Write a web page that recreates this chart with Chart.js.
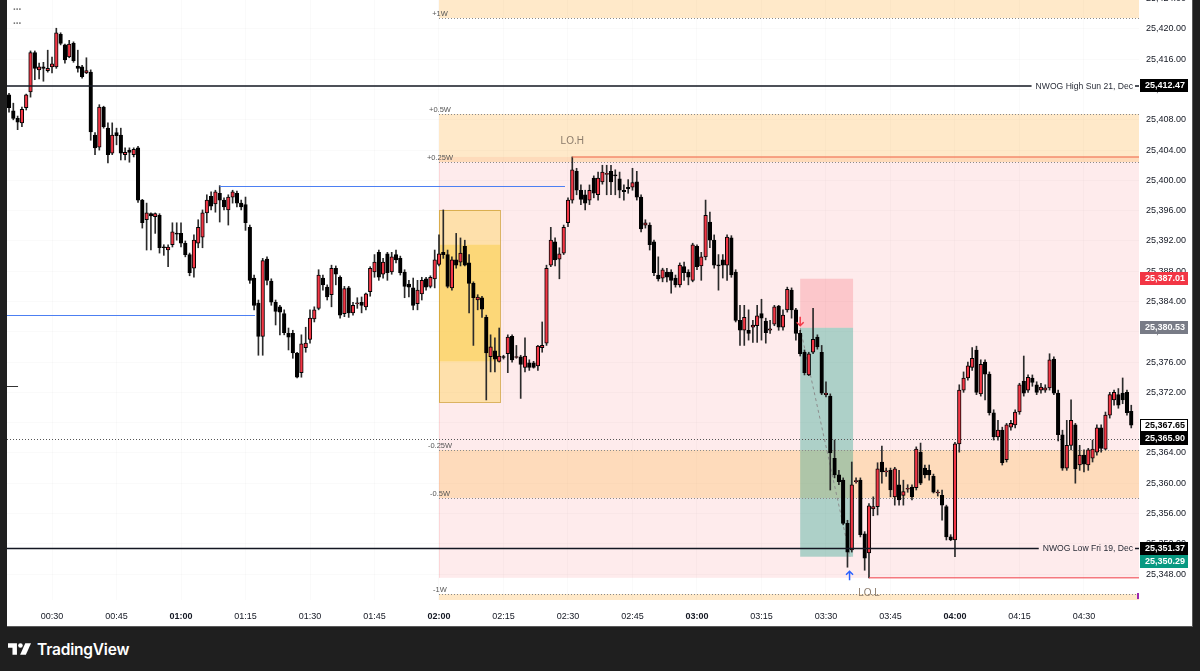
<!DOCTYPE html>
<html>
<head>
<meta charset="utf-8">
<script src="https://cdn.jsdelivr.net/npm/chart.js@4.4.1/dist/chart.umd.min.js"></script>
<style>
  html, body { margin: 0; padding: 0; width: 1200px; height: 671px; overflow: hidden; background: #1f1f1f; }
  #wrap { position: absolute; left: 7px; top: 0; width: 1186px; height: 627px; background: #fff; box-shadow: inset -1px -1px 0 #5a5a5a; }
  #logo { position: absolute; left: 8px; top: 640px; height: 18px; display: flex; align-items: center; color: #fff;
          font: 600 15.5px "Inter", "Open Sans", sans-serif; letter-spacing: -0.2px; }
  #logo svg { margin-right: 6px; }
</style>
</head>
<body>
<div id="wrap"><canvas id="chart"></canvas></div>
<div id="logo">
  <svg width="23" height="12" viewBox="0 0 36 18"><path d="M0 0h14v18H7V7H0z" fill="#fff"/><circle cx="19.5" cy="3.6" r="3.6" fill="#fff"/><path d="M27 0h9l-8 18h-9z" fill="#fff"/></svg>
  <span>TradingView</span>
</div>
<script>
(function () {
  'use strict';

  // ─── Data: 1-minute candles from 00:20 ─────────────────
  var firstMinute = 20;
  var opens = [
    25411.3, 25409.2, 25408.2, 25407.6, 25409.6, 25411.7, 25416.9, 25414.6, 25415.0, 25414.5,
    25415.0, 25415.0, 25419.3, 25417.9, 25416.3, 25418.1, 25415.1, 25415.0, 25414.2, 25414.3,
    25406.0, 25404.4, 25409.7, 25406.9, 25403.6, 25406.3, 25406.0, 25403.4, 25404.0, 25403.4,
    25404.3, 25397.4, 25394.8, 25395.6, 25395.2, 25395.4, 25391.2, 25390.8, 25391.5, 25393.0,
    25393.0, 25391.7, 25390.2, 25388.4, 25391.7, 25392.5, 25395.7, 25397.9, 25396.9, 25398.3,
    25397.4, 25396.1, 25397.8, 25398.3, 25397.0, 25396.8, 25393.8, 25387.1, 25383.8, 25379.4,
    25389.6, 25386.7, 25383.9, 25383.3, 25382.4, 25379.8, 25379.8, 25377.2, 25374.6, 25377.9,
    25379.0, 25381.7, 25383.1, 25387.1, 25385.9, 25384.9, 25388.4, 25387.2, 25382.4, 25385.8,
    25382.5, 25383.7, 25383.9, 25383.3, 25385.3, 25387.9, 25390.5, 25387.6, 25390.3, 25387.9,
    25390.2, 25389.7, 25387.9, 25386.3, 25385.8, 25383.7, 25385.0, 25387.0, 25386.0, 25387.0,
    25388.9, 25390.5, 25390.2, 25385.8, 25389.5, 25389.2, 25391.3, 25389.1, 25386.4, 25384.2,
    25384.5, 25381.9, 25376.7, 25377.5, 25376.1, 25376.7, 25377.1, 25379.4, 25376.6, 25376.7,
    25375.3, 25375.9, 25375.9, 25375.5, 25377.9, 25378.5, 25388.8, 25391.9, 25389.6, 25390.4,
    25394.4, 25397.4, 25401.2, 25398.7, 25398.1, 25397.4, 25400.3, 25398.1, 25399.8, 25400.8,
    25401.2, 25400.7, 25400.2, 25398.7, 25399.1, 25399.1, 25399.8, 25397.8, 25394.1, 25394.1,
    25391.9, 25387.5, 25387.1, 25387.9, 25387.9, 25387.1, 25386.2, 25388.6, 25387.9, 25386.8,
    25391.3, 25388.7, 25389.9, 25394.5, 25392.1, 25388.8, 25389.5, 25388.8, 25392.4, 25387.9,
    25381.5, 25380.2, 25380.2, 25380.6, 25380.8, 25382.4, 25381.4, 25380.2, 25381.0, 25383.4,
    25380.6, 25382.9, 25385.5, 25382.9, 25379.8, 25377.3, 25374.3, 25377.3, 25379.3, 25377.3,
    25371.7, 25371.5, 25363.3, 25361.1, 25360.4, 25354.7, 25351.2, 25360.2, 25360.4, 25353.3,
    25350.8, 25356.6, 25356.9, 25362.8, 25361.5, 25361.7, 25358.2, 25359.8, 25358.4, 25359.2,
    25359.5, 25359.4, 25364.1, 25362.0, 25361.7, 25360.9, 25358.7, 25358.4, 25356.9, 25352.9,
    25352.5, 25365.2, 25372.3, 25373.9, 25375.3, 25377.6, 25371.8, 25376.0, 25374.4, 25369.3,
    25366.1, 25367.0, 25363.1, 25367.4, 25367.7, 25369.4, 25373.5, 25372.3, 25373.9, 25373.0,
    25372.3, 25372.3, 25372.6, 25376.4, 25371.9, 25366.4, 25362.0, 25365.0, 25367.7, 25362.4,
    25363.7, 25362.4, 25363.3, 25364.1, 25367.3, 25364.5, 25369.0, 25371.0, 25371.7, 25371.9,
    25372.0, 25369.5
  ];
  var highs = [
    25411.5, 25410.2, 25408.5, 25409.7, 25411.4, 25417.1, 25417.1, 25415.5, 25415.6, 25417.2,
    25416.3, 25420.1, 25419.5, 25418.0, 25418.5, 25418.3, 25417.2, 25415.2, 25416.2, 25414.6,
    25406.3, 25410.0, 25409.8, 25407.6, 25407.6, 25406.9, 25406.9, 25404.3, 25404.3, 25404.3,
    25404.5, 25397.5, 25397.0, 25395.7, 25395.7, 25395.6, 25391.5, 25391.5, 25394.4, 25394.4,
    25394.4, 25392.0, 25390.4, 25392.8, 25394.8, 25396.1, 25398.1, 25398.5, 25398.7, 25399.3,
    25397.7, 25398.1, 25398.7, 25398.6, 25397.4, 25397.8, 25394.1, 25387.5, 25384.2, 25389.7,
    25389.9, 25387.0, 25384.2, 25383.5, 25382.9, 25380.5, 25380.2, 25377.3, 25379.6, 25380.6,
    25382.9, 25383.3, 25388.2, 25387.5, 25386.2, 25388.8, 25388.7, 25387.4, 25386.0, 25386.0,
    25383.9, 25384.5, 25384.6, 25385.1, 25388.6, 25390.2, 25390.8, 25389.7, 25390.5, 25390.5,
    25390.8, 25390.0, 25388.2, 25386.8, 25387.1, 25386.8, 25387.2, 25387.2, 25387.4, 25390.8,
    25392.8, 25396.1, 25390.8, 25389.9, 25393.0, 25392.4, 25392.1, 25390.2, 25386.6, 25384.9,
    25384.7, 25382.2, 25379.6, 25379.2, 25380.5, 25376.9, 25379.6, 25379.6, 25378.2, 25376.9,
    25379.2, 25376.3, 25376.1, 25378.2, 25381.3, 25388.8, 25393.8, 25392.4, 25391.1, 25394.1,
    25397.7, 25403.1, 25401.6, 25399.4, 25398.7, 25399.4, 25400.6, 25401.1, 25402.0, 25402.0,
    25402.0, 25401.4, 25401.1, 25399.4, 25400.1, 25401.6, 25401.2, 25398.1, 25394.8, 25394.4,
    25392.1, 25389.9, 25388.4, 25388.4, 25388.2, 25387.5, 25389.1, 25389.2, 25388.2, 25391.7,
    25391.5, 25390.5, 25397.4, 25395.8, 25392.8, 25390.2, 25390.2, 25392.8, 25392.7, 25388.2,
    25383.5, 25383.5, 25382.9, 25381.5, 25383.5, 25384.3, 25381.8, 25381.5, 25383.5, 25383.5,
    25382.9, 25385.9, 25385.8, 25383.1, 25380.2, 25377.6, 25377.3, 25383.1, 25379.6, 25378.2,
    25373.4, 25371.8, 25365.7, 25361.7, 25360.7, 25355.1, 25362.8, 25360.7, 25360.7, 25353.6,
    25357.3, 25358.2, 25362.7, 25364.9, 25362.0, 25362.0, 25362.1, 25361.7, 25360.4, 25359.8,
    25359.8, 25364.8, 25365.3, 25362.4, 25362.4, 25361.2, 25359.1, 25359.1, 25357.1, 25353.2,
    25365.4, 25373.0, 25374.7, 25376.0, 25377.9, 25378.1, 25376.3, 25376.3, 25374.7, 25369.7,
    25368.3, 25367.4, 25367.9, 25368.3, 25369.7, 25373.2, 25376.8, 25374.3, 25374.3, 25373.4,
    25373.2, 25373.0, 25377.1, 25376.7, 25372.3, 25367.0, 25368.3, 25371.0, 25367.9, 25365.0,
    25364.4, 25364.6, 25365.7, 25367.7, 25367.7, 25369.4, 25372.0, 25372.3, 25372.5, 25373.9,
    25372.3, 25370.3
  ];
  var lows = [
    25409.0, 25408.0, 25406.7, 25407.1, 25409.3, 25411.0, 25413.3, 25413.4, 25413.1, 25414.3,
    25414.2, 25414.8, 25417.9, 25415.5, 25416.2, 25415.6, 25414.3, 25413.5, 25414.1, 25405.3,
    25403.4, 25404.0, 25406.9, 25402.3, 25403.4, 25404.7, 25402.7, 25402.7, 25402.4, 25403.1,
    25397.1, 25393.7, 25390.8, 25390.8, 25393.0, 25390.4, 25390.1, 25388.6, 25391.2, 25392.1,
    25391.2, 25389.9, 25387.4, 25387.2, 25391.1, 25391.1, 25394.4, 25396.1, 25395.8, 25394.5,
    25396.1, 25394.1, 25397.0, 25396.5, 25396.1, 25393.4, 25386.4, 25382.9, 25376.9, 25376.9,
    25386.2, 25383.5, 25380.9, 25379.6, 25379.6, 25377.6, 25376.5, 25373.9, 25374.0, 25377.3,
    25378.5, 25381.3, 25382.9, 25385.5, 25384.2, 25383.3, 25386.2, 25381.8, 25382.0, 25381.9,
    25382.2, 25383.1, 25382.5, 25382.9, 25384.7, 25387.2, 25386.8, 25387.1, 25386.8, 25387.6,
    25389.1, 25387.5, 25384.5, 25384.6, 25382.9, 25382.9, 25384.2, 25385.5, 25385.8, 25385.8,
    25388.7, 25389.7, 25385.8, 25385.5, 25388.4, 25388.7, 25388.7, 25382.5, 25378.2, 25382.9,
    25381.9, 25371.0, 25374.7, 25374.7, 25376.0, 25376.4, 25374.6, 25376.0, 25376.5, 25371.2,
    25374.7, 25374.9, 25375.2, 25374.9, 25377.3, 25378.2, 25388.6, 25388.7, 25387.0, 25390.2,
    25393.9, 25397.0, 25398.1, 25396.8, 25396.1, 25396.8, 25397.7, 25397.4, 25399.5, 25398.1,
    25398.1, 25398.1, 25397.7, 25397.4, 25398.3, 25398.7, 25397.4, 25393.2, 25393.7, 25390.8,
    25387.4, 25386.7, 25386.6, 25386.6, 25385.1, 25385.9, 25385.9, 25386.8, 25386.2, 25386.6,
    25388.2, 25386.8, 25389.5, 25391.1, 25388.4, 25385.5, 25387.1, 25386.8, 25387.2, 25381.3,
    25378.2, 25378.2, 25378.9, 25378.6, 25378.6, 25378.9, 25378.5, 25379.8, 25380.8, 25380.2,
    25380.2, 25382.6, 25381.8, 25378.9, 25376.8, 25374.3, 25374.2, 25377.1, 25377.7, 25371.7,
    25371.4, 25359.1, 25360.7, 25359.8, 25354.5, 25348.9, 25350.9, 25360.0, 25352.9, 25348.5,
    25347.5, 25355.7, 25355.8, 25360.0, 25360.9, 25358.2, 25357.1, 25357.1, 25357.1, 25358.8,
    25357.8, 25359.1, 25359.8, 25360.7, 25360.4, 25358.7, 25358.3, 25355.1, 25352.5, 25352.4,
    25350.3, 25364.1, 25372.0, 25373.6, 25374.9, 25371.7, 25371.5, 25371.0, 25369.0, 25365.7,
    25365.7, 25362.4, 25362.8, 25367.0, 25367.3, 25369.1, 25371.5, 25372.0, 25372.8, 25371.7,
    25371.9, 25372.0, 25372.3, 25371.7, 25365.6, 25361.7, 25361.7, 25364.4, 25360.0, 25361.7,
    25361.5, 25361.7, 25362.8, 25363.7, 25364.1, 25364.4, 25368.6, 25370.3, 25369.9, 25370.5,
    25369.0, 25367.3
  ];
  var closes = [
    25409.6, 25408.2, 25407.7, 25409.4, 25411.3, 25416.9, 25414.8, 25415.0, 25414.8, 25414.8,
    25415.4, 25419.5, 25418.1, 25415.9, 25418.0, 25415.8, 25414.8, 25413.7, 25414.5, 25406.4,
    25404.3, 25409.7, 25407.1, 25403.4, 25406.0, 25405.9, 25403.6, 25403.7, 25403.7, 25404.1,
    25397.4, 25394.4, 25395.7, 25395.3, 25395.6, 25391.1, 25391.1, 25391.2, 25393.2, 25392.9,
    25391.7, 25390.2, 25387.8, 25392.1, 25393.8, 25395.7, 25397.4, 25396.6, 25398.5, 25397.4,
    25396.5, 25397.8, 25398.5, 25397.0, 25396.5, 25394.4, 25386.8, 25383.5, 25379.4, 25389.4,
    25386.8, 25383.9, 25382.7, 25382.6, 25379.9, 25379.3, 25377.2, 25374.0, 25378.4, 25378.5,
    25381.8, 25382.9, 25387.5, 25386.2, 25384.6, 25388.4, 25387.6, 25382.2, 25385.7, 25382.5,
    25383.5, 25383.8, 25383.5, 25385.0, 25388.4, 25389.2, 25387.2, 25389.2, 25387.8, 25389.9,
    25389.5, 25387.8, 25386.0, 25385.9, 25383.5, 25385.5, 25386.8, 25385.9, 25387.2, 25389.5,
    25390.3, 25390.2, 25386.0, 25389.5, 25388.8, 25390.4, 25388.8, 25386.4, 25384.5, 25384.6,
    25383.0, 25377.2, 25378.0, 25376.4, 25376.8, 25376.6, 25379.3, 25376.3, 25376.7, 25375.7,
    25376.8, 25375.3, 25375.3, 25378.1, 25378.2, 25388.4, 25392.1, 25389.5, 25390.3, 25393.8,
    25397.4, 25401.4, 25398.7, 25397.5, 25397.0, 25398.7, 25398.3, 25400.3, 25401.1, 25400.9,
    25399.8, 25400.6, 25398.7, 25398.5, 25398.9, 25399.7, 25397.8, 25393.6, 25394.4, 25391.5,
    25387.8, 25387.0, 25388.2, 25387.2, 25386.8, 25386.2, 25388.8, 25387.8, 25387.2, 25391.5,
    25388.6, 25389.9, 25395.4, 25392.1, 25388.8, 25388.7, 25388.8, 25392.5, 25387.5, 25381.5,
    25380.2, 25381.9, 25379.8, 25380.9, 25382.1, 25381.8, 25379.9, 25380.4, 25383.3, 25380.6,
    25382.2, 25385.6, 25382.9, 25379.8, 25377.1, 25374.6, 25377.1, 25379.0, 25378.0, 25371.9,
    25371.9, 25364.0, 25361.1, 25360.2, 25354.7, 25350.9, 25359.8, 25360.3, 25353.2, 25350.1,
    25357.0, 25356.9, 25361.9, 25361.5, 25361.6, 25359.1, 25361.9, 25357.8, 25358.9, 25359.3,
    25358.2, 25364.5, 25360.0, 25361.1, 25361.1, 25358.8, 25358.8, 25357.1, 25352.9, 25352.5,
    25365.2, 25372.3, 25373.9, 25375.5, 25376.5, 25372.0, 25375.7, 25374.4, 25369.3, 25366.1,
    25367.0, 25362.7, 25367.7, 25367.9, 25369.4, 25373.0, 25371.9, 25374.0, 25373.3, 25372.0,
    25372.7, 25372.6, 25376.3, 25371.9, 25366.4, 25362.0, 25365.0, 25368.3, 25361.9, 25363.7,
    25362.5, 25364.4, 25364.5, 25367.3, 25364.6, 25369.0, 25371.7, 25372.0, 25370.3, 25371.0,
    25369.3, 25367.65
  ];

  // ─── Axes ──────────────────────────────────────────────
  var timeTicks = [30, 45, 60, 75, 90, 105, 120, 135, 150, 165, 180, 195, 210, 225, 240, 255, 270];
  var timeLabels = ['00:30', '00:45', '01:00', '01:15', '01:30', '01:45', '02:00', '02:15', '02:30',
    '02:45', '03:00', '03:15', '03:30', '03:45', '04:00', '04:15', '04:30'];
  var priceTicks = [25348, 25352, 25356, 25360, 25364, 25368, 25372, 25376, 25380, 25384,
    25388, 25392, 25396, 25400, 25404, 25408, 25412, 25416, 25420, 25424];
  var timeRange = [19.53, 282.8];
  var priceRange = [25344.57, 25423.83];

  // ─── Drawings ─────────────────────────────────────────
  var weekLevels = [25421.45, 25408.77, 25402.43, 25364.38, 25358.05, 25345.36];
  var weekLabels = ['+1W', '+0.5W', '+0.25W', '-0.25W', '-0.5W', '-1W'];
  var weekStart = 120;                       // 02:00
  var loLevels = [25403.1, 25347.5];         // LO.H, LO.L
  var loLabels = ['LO.H', 'LO.L'];
  var loTimes = [151, 220];
  var nwogPrices = [25412.47, 25351.37];
  var nwogLabels = ['NWOG High Sun 21, Dec', 'NWOG Low Fri 19, Dec'];
  var lastClosePrice = 25365.90;
  var boxTimes = [120, 134.2];
  var boxOuter = [25396.1, 25370.7];
  var boxInner = [25391.5, 25376.1];
  var posTimes = [204, 216.3];
  var posPrices = [25387.01, 25380.53, 25350.29]; // stop, entry, target
  var posExit = [215.6, 25350.29];
  var rayPrices = [25399.3, 25382.2, 25372.84];
  var rayStarts = [69, 19.53, 19.53];
  var rayEnds = [149.3, 77.2, 22.1];
  var tagPrices = [25412.47, 25387.01, 25380.53, 25367.65, 25365.90, 25351.37, 25350.29];

  var tagStyles = [
    { bg: '#000000', fg: '#ffffff' },
    { bg: '#f23645', fg: '#ffffff' },
    { bg: '#787b86', fg: '#ffffff' },
    { bg: '#ffffff', fg: '#000000', border: '#000000' },
    { bg: '#000000', fg: '#ffffff' },
    { bg: '#000000', fg: '#ffffff' },
    { bg: '#089981', fg: '#ffffff' }
  ];

  var FONT = '"Liberation Sans", Arial, sans-serif';
  var UP = '#f23645';
  var DOWN = '#000000';

  function fmtPrice(v) {
    var s = Number(v).toFixed(2).split('.');
    return s[0].replace(/\B(?=(\d{3})+(?!\d))/g, ',') + '.' + s[1];
  }

  var bodyData = [], wickData = [];
  for (var i = 0; i < opens.length; i++) {
    bodyData.push({ x: firstMinute + i, y: [opens[i], closes[i]] });
    wickData.push({ x: firstMinute + i, y: [lows[i], highs[i]] });
  }

  function hline(ctx, x0, x1, y) {
    ctx.beginPath();
    ctx.moveTo(x0, Math.round(y) + 0.5);
    ctx.lineTo(x1, Math.round(y) + 0.5);
    ctx.stroke();
  }

  // zones sit behind the candles
  function drawZones(chart) {
    var ctx = chart.ctx, a = chart.chartArea, xs = chart.scales.x, ys = chart.scales.y;
    var X = function (t) { return xs.getPixelForValue(t); };
    var Y = function (p) { return ys.getPixelForValue(p); };
    var x0 = X(weekStart), xR = a.right;

    ctx.save();
    ctx.beginPath();
    ctx.rect(a.left, a.top, a.right - a.left, a.bottom - a.top);
    ctx.clip();

    // LO range
    ctx.fillStyle = 'rgba(242, 54, 69, 0.1)';
    ctx.fillRect(x0, Y(loLevels[0]), xR - x0, Y(loLevels[1]) - Y(loLevels[0]));
    ctx.strokeStyle = 'rgba(242, 54, 69, 0.12)';
    ctx.lineWidth = 1;
    ctx.beginPath();
    ctx.moveTo(Math.round(x0) + 0.5, Y(loLevels[0]));
    ctx.lineTo(Math.round(x0) + 0.5, Y(loLevels[1]));
    ctx.stroke();

    // weekly bands
    ctx.fillStyle = 'rgba(255, 183, 77, 0.3)';
    ctx.fillRect(x0, a.top - 5, xR - x0, Y(weekLevels[0]) - a.top + 5);
    ctx.fillRect(x0, Y(weekLevels[1]), xR - x0, Y(weekLevels[2]) - Y(weekLevels[1]));
    ctx.fillRect(x0, Y(weekLevels[3]), xR - x0, Y(weekLevels[4]) - Y(weekLevels[3]));
    ctx.fillRect(x0, Y(weekLevels[5]), xR - x0, a.bottom - Y(weekLevels[5]) + 5);

    // order block box
    var bx0 = X(boxTimes[0]), bx1 = X(boxTimes[1]);
    ctx.fillStyle = 'rgba(255, 210, 80, 0.42)';
    ctx.fillRect(bx0, Y(boxOuter[0]), bx1 - bx0, Y(boxOuter[1]) - Y(boxOuter[0]));
    ctx.fillStyle = 'rgba(250, 205, 60, 0.45)';
    ctx.fillRect(bx0, Y(boxInner[0]), bx1 - bx0, Y(boxInner[1]) - Y(boxInner[0]));
    ctx.strokeStyle = 'rgba(200, 150, 30, 0.65)';
    ctx.strokeRect(Math.round(bx0) + 0.5, Math.round(Y(boxOuter[0])) + 0.5,
      Math.round(bx1 - bx0), Math.round(Y(boxOuter[1]) - Y(boxOuter[0])));

    // short position tool
    var px0 = X(posTimes[0]), px1 = X(posTimes[1]);
    ctx.fillStyle = 'rgba(242, 54, 69, 0.2)';
    ctx.fillRect(px0, Y(posPrices[0]), px1 - px0, Y(posPrices[1]) - Y(posPrices[0]));
    ctx.fillStyle = 'rgba(8, 153, 129, 0.33)';
    ctx.fillRect(px0, Y(posPrices[1]), px1 - px0, Y(posPrices[2]) - Y(posPrices[1]));
    ctx.strokeStyle = '#8c8c8c';
    ctx.setLineDash([3, 3]);
    ctx.beginPath();
    ctx.moveTo(px0, Y(posPrices[1]));
    ctx.lineTo(X(posExit[0]), Y(posExit[1]));
    ctx.stroke();

    // dotted weekly levels
    ctx.setLineDash([1, 2]);
    ctx.strokeStyle = '#8a8a8a';
    for (var k = 0; k < weekLevels.length; k++) hline(ctx, x0, xR, Y(weekLevels[k]));

    // last close dotted line
    ctx.strokeStyle = '#555';
    hline(ctx, a.left, xR, Y(lastClosePrice));
    ctx.setLineDash([]);
    ctx.restore();
  }

  function drawArrow(ctx, x, yTip, dir, color) {
    // dir = 1 points down, -1 points up
    ctx.save();
    ctx.strokeStyle = color;
    ctx.lineWidth = 1.5;
    ctx.beginPath();
    ctx.moveTo(x, yTip - dir * 9);
    ctx.lineTo(x, yTip);
    ctx.moveTo(x - 3.5, yTip - dir * 3.5);
    ctx.lineTo(x, yTip);
    ctx.lineTo(x + 3.5, yTip - dir * 3.5);
    ctx.stroke();
    ctx.restore();
  }

  // lines and labels on top
  function drawDrawings(chart) {
    var ctx = chart.ctx, a = chart.chartArea, xs = chart.scales.x, ys = chart.scales.y;
    var X = function (t) { return xs.getPixelForValue(t); };
    var Y = function (p) { return ys.getPixelForValue(p); };
    var x0 = X(weekStart), xR = a.right;

    ctx.save();
    ctx.beginPath();
    ctx.rect(a.left, a.top, a.right - a.left, a.bottom - a.top);
    ctx.clip();

    // horizontal rays
    var rayColors = ['#4c7ff2', '#4c7ff2', '#333333'];
    ctx.lineWidth = 1;
    for (var r = 0; r < rayPrices.length; r++) {
      ctx.strokeStyle = rayColors[r];
      hline(ctx, Math.max(a.left, X(rayStarts[r])), X(rayEnds[r]), Y(rayPrices[r]));
    }

    // LO.H / LO.L lines
    ctx.lineWidth = 1.5;
    ctx.strokeStyle = 'rgba(240, 110, 80, 0.75)';
    ctx.beginPath();
    ctx.moveTo(X(loTimes[0]), Y(loLevels[0]));
    ctx.lineTo(xR, Y(loLevels[0]));
    ctx.stroke();
    ctx.strokeStyle = 'rgba(242, 80, 90, 0.75)';
    ctx.beginPath();
    ctx.moveTo(X(loTimes[1]), Y(loLevels[1]));
    ctx.lineTo(xR, Y(loLevels[1]));
    ctx.stroke();

    ctx.font = '10px ' + FONT;
    ctx.fillStyle = '#8b7b6b';
    ctx.textAlign = 'center';
    ctx.textBaseline = 'middle';
    ctx.fillText(loLabels[0], X(loTimes[0]), Y(loLevels[0]) - 16);
    ctx.fillText(loLabels[1], X(loTimes[1]), Y(loLevels[1]) + 15);

    // weekly labels
    ctx.font = '7.5px ' + FONT;
    ctx.fillStyle = '#555';
    ctx.textBaseline = 'alphabetic';
    for (var k = 0; k < weekLevels.length; k++) {
      ctx.fillText(weekLabels[k], x0 + 1, Y(weekLevels[k]) - 2);
    }

    // NWOG lines with right-hand labels
    ctx.font = '8.6px ' + FONT;
    ctx.textAlign = 'right';
    ctx.textBaseline = 'middle';
    for (var n = 0; n < nwogPrices.length; n++) {
      var y = Y(nwogPrices[n]);
      var textRight = xR - 6;
      var w = ctx.measureText(nwogLabels[n]).width;
      ctx.strokeStyle = '#131722';
      ctx.lineWidth = 1.6;
      ctx.beginPath();
      ctx.moveTo(a.left, y);
      ctx.lineTo(textRight - w - 4, y);
      ctx.moveTo(textRight + 2, y);
      ctx.lineTo(xR, y);
      ctx.stroke();
      ctx.fillStyle = '#2a2e39';
      ctx.fillText(nwogLabels[n], textRight, y + 0.5);
    }

    // entry / exit arrows
    drawArrow(ctx, X(posTimes[0]), Y(posPrices[1]) - 2, 1, '#f23645');
    drawArrow(ctx, X(posExit[0]) - 0.5, Y(lows[195]) + 4, -1, '#2962ff');

    // collapsed legend dots
    ctx.font = 'bold 10px ' + FONT;
    ctx.fillStyle = '#777';
    ctx.textAlign = 'left';
    ctx.fillText('...', a.left + 6, 7);
    ctx.fillText('...', a.left + 6, 21);

    // small purple marker at the right edge
    ctx.fillStyle = '#9c27b0';
    ctx.fillRect(xR - 2, Y(weekLevels[5]) - 1, 2, 6);
    ctx.restore();
  }

  function drawTags(chart) {
    var ctx = chart.ctx, ys = chart.scales.y, a = chart.chartArea;
    var h = 13, left = a.right + 1, width = 48;
    var prevBottom = -Infinity;
    ctx.save();
    ctx.font = 'bold 9px ' + FONT;
    ctx.textAlign = 'center';
    ctx.textBaseline = 'middle';
    for (var t = 0; t < tagPrices.length; t++) {
      var cy = ys.getPixelForValue(tagPrices[t]);
      var top = Math.round(cy - h / 2);
      if (top < prevBottom) top = prevBottom;
      prevBottom = top + h;
      var st = tagStyles[t];
      ctx.fillStyle = st.bg;
      ctx.fillRect(left, top, width, h);
      if (st.border) {
        ctx.strokeStyle = st.border;
        ctx.lineWidth = 1;
        ctx.strokeRect(left + 0.5, top + 0.5, width - 1, h - 1);
      }
      ctx.fillStyle = st.fg;
      ctx.fillText(fmtPrice(tagPrices[t]), left + width / 2 + 1, top + h / 2 + 0.5);
    }
    ctx.restore();
  }

  var overlayPlugin = {
    id: 'overlays',
    beforeDatasetsDraw: function (chart) { drawZones(chart); },
    afterDatasetsDraw: function (chart) { drawDrawings(chart); },
    afterDraw: function (chart) { drawTags(chart); }
  };

  var gridColor = 'rgba(42, 46, 57, 0.025)';

  new Chart(document.getElementById('chart'), {
    type: 'bar',
    data: {
      datasets: [{
        label: 'body',
        data: bodyData,
        order: 0,
        grouped: false,
        barThickness: 3.6,
        minBarLength: 1,
        borderSkipped: false,
        borderWidth: 1,
        borderColor: '#000000',
        backgroundColor: function (c) {
          var k = c.dataIndex;
          return closes[k] >= opens[k] ? UP : DOWN;
        }
      }, {
        label: 'wick',
        data: wickData,
        order: 1,
        grouped: false,
        barThickness: 1,
        minBarLength: 1,
        borderWidth: 0,
        backgroundColor: '#2b2b2b'
      }]
    },
    options: {
      responsive: true,
      maintainAspectRatio: false,
      animation: false,
      events: [],
      layout: { padding: 0, autoPadding: false },
      plugins: { legend: { display: false }, tooltip: { enabled: false } },
      scales: {
        x: {
          type: 'linear',
          min: timeRange[0],
          max: timeRange[1],
          offset: false,
          border: { display: false },
          grid: { color: gridColor, drawTicks: false, offset: false },
          afterBuildTicks: function (s) {
            s.ticks = timeTicks.map(function (v) { return { value: v }; });
          },
          afterFit: function (s) { s.height = 27; s.paddingLeft = 0; s.paddingRight = 0; },
          ticks: {
            autoSkip: false,
            maxRotation: 0,
            padding: 11,
            color: '#131722',
            font: function (c) {
              var v = c.tick ? c.tick.value : 0;
              return { family: FONT, size: 9, weight: v % 60 === 0 ? 'bold' : 'normal' };
            },
            callback: function (v) {
              var k = timeTicks.indexOf(v);
              return k >= 0 ? timeLabels[k] : '';
            }
          }
        },
        y: {
          type: 'linear',
          position: 'right',
          min: priceRange[0],
          max: priceRange[1],
          border: { display: false },
          grid: { color: gridColor, drawTicks: false },
          afterBuildTicks: function (s) {
            s.ticks = priceTicks.map(function (v) { return { value: v }; });
          },
          afterFit: function (s) { s.width = 54; s.paddingTop = 0; s.paddingBottom = 0; },
          ticks: {
            autoSkip: false,
            padding: 7,
            color: '#131722',
            font: { family: FONT, size: 9 },
            callback: function (v) { return fmtPrice(v); }
          }
        }
      }
    },
    plugins: [overlayPlugin]
  });
})();
</script>
</body>
</html>
